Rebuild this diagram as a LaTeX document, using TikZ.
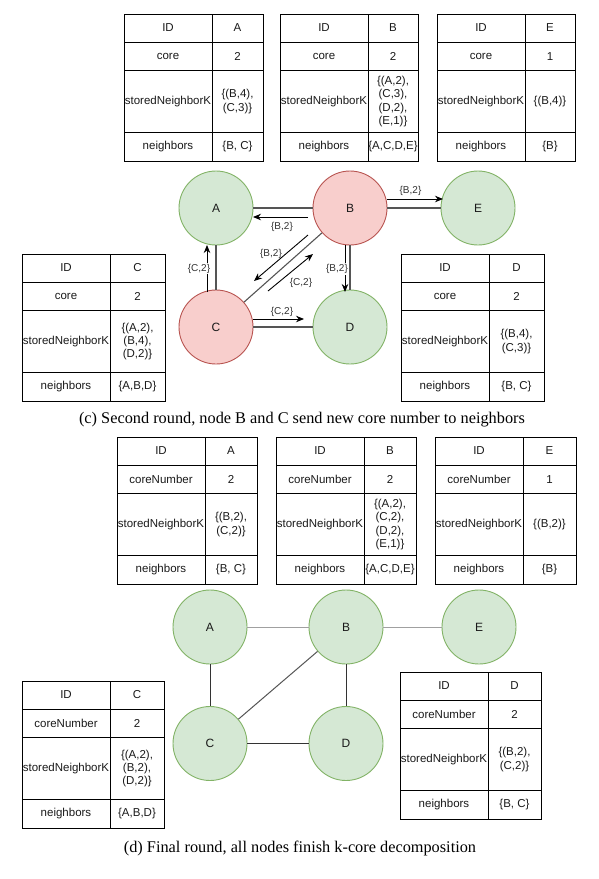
\documentclass[tikz,border=0pt]{standalone}
\usepackage{fontspec}
\setmainfont{Liberation Serif}
\setsansfont{Liberation Sans}
\usetikzlibrary{arrows.meta}
\definecolor{gfill}{HTML}{D5E8D4}
\definecolor{gline}{HTML}{82B366}
\definecolor{rfill}{HTML}{F8CECC}
\definecolor{rline}{HTML}{B85450}
\definecolor{edgegray}{HTML}{555555}
\definecolor{lightedge}{HTML}{A0A0A0}
\definecolor{darkedge}{HTML}{333333}
\definecolor{txtcol}{HTML}{1A1A1A}

\newcommand\kctab[9]{%
 \begin{scope}[shift={(#2,#3)}]
  \draw[tabline] (0,0) rectangle (88+#4,147);
  \draw[tabline] (0,28) -- (88+#4,28);
  \draw[tabline] (0,56.5) -- (88+#4,56.5);
  \draw[tabline] (0,118.5) -- (88+#4,118.5);
  \draw[tabline] (88,0) -- (88,147);
  \node[tabtxt] (#1-k1) at (44,14) {ID};
  \node[tabtxt] (#1-v1) at (88+#4/2,14) {#5};
  \node[tabtxt] (#1-k2) at (44,42.25) {#6};
  \node[tabtxt] (#1-v2) at (88+#4/2,42.25) {#7};
  \node[tabtxt] (#1-k3) at (44,87.5) {storedNeighborK};
  \node[tabtxt] (#1-v3) at (88+#4/2,87.5) {#8};
  \node[tabtxt] (#1-k4) at (44,132.75) {neighbors};
  \node[tabtxt] (#1-v4) at (88+#4/2,132.75) {#9};
 \end{scope}}

\tikzset{
  tabline/.style={draw=black, line width=0.9pt},
  tabtxt/.style={font=\sffamily\fontsize{11.5}{13.3}\selectfont, inner sep=0pt, align=center, text=txtcol},
  gnode/.style={circle, draw=gline, fill=gfill, minimum size=74pt, inner sep=0pt, line width=0.9pt, font=\sffamily\fontsize{12}{14}\selectfont, text=txtcol},
  rnode/.style={gnode, draw=rline, fill=rfill},
  edgeline/.style={draw=edgegray, line width=1.1pt},
  lightline/.style={draw=lightedge, line width=1pt},
  darkline/.style={draw=darkedge, line width=1pt},
  midline/.style={draw=edgegray, line width=1pt},
  msg/.style={-{Stealth[length=8pt,width=6.5pt]}, draw=black, line width=0.9pt},
  lbl/.style={font=\sffamily\fontsize{10}{12}\selectfont, inner sep=1pt, text=darkedge},
  lblw/.style={lbl, fill=white},
  captxt/.style={font=\rmfamily\fontsize{16.3}{19}\selectfont, inner sep=0pt, text=black}
}

\begin{document}
\begin{tikzpicture}[x=1pt, y=-1pt]
\fill[white] (0,0) rectangle (598,879);
\useasboundingbox (0,0) rectangle (598,879);

% ---------- (c) ----------
\kctab{tA}{124}{14}{51}{A}{core}{2}{\{(B,4),\\(C,3)\}}{\{B, C\}}
\kctab{tB}{280}{14}{50}{B}{core}{2}{\{(A,2),\\(C,3),\\(D,2),\\(E,1)\}}{\{A,C,D,E\}}
\kctab{tE}{437}{14}{50}{E}{core}{1}{\{(B,4)\}}{\{B\}}
\kctab{tC}{22}{254}{55}{C}{core}{2}{\{(A,2),\\(B,4),\\(D,2)\}}{\{A,B,D\}}
\kctab{tD}{401}{254}{55}{D}{core}{2}{\{(B,4),\\(C,3)\}}{\{B, C\}}

\node[gnode] (A) at (216,208) {A};
\node[rnode] (B) at (350,208) {B};
\node[gnode] (E) at (478,208) {E};
\node[rnode] (C) at (216,327) {C};
\node[gnode] (D) at (350,327) {D};

\draw[edgeline] (A) -- (B);
\draw[edgeline] (B) -- (E);
\draw[edgeline] (A) -- (C);
\draw[edgeline] (B) -- (D);
\draw[edgeline] (C) -- (D);
\draw[edgeline] (B) -- (C);

\coordinate (ba1) at (308,217); \coordinate (ba2) at (253,217);
\coordinate (be1) at (387,199); \coordinate (be2) at (443,199);
\coordinate (ca1) at (207,292); \coordinate (ca2) at (207,245);
\coordinate (bd1) at (345,245); \coordinate (bd2) at (345,292);
\coordinate (cd1) at (253,319); \coordinate (cd2) at (304,319);
\coordinate (bc1) at (308,235); \coordinate (bc2) at (254,281);
\coordinate (cb1) at (268,291); \coordinate (cb2) at (313,254);

\draw[msg] (ba1) -- (ba2);
\draw[msg] (be1) -- (be2);
\draw[msg] (ca1) -- (ca2);
\draw[msg] (bd1) -- (bd2);
\draw[msg] (cd1) -- (cd2);
\draw[msg] (bc1) -- (bc2);
\draw[msg] (cb1) -- (cb2);

\node[lbl] (lba) at (282,226.5) {\{B,2\}};
\node[lbl] (lbe) at (410.5,191) {\{B,2\}};
\node[lblw] (lca) at (199,268.7) {\{C,2\}};
\node[lblw] (lbd) at (337,269) {\{B,2\}};
\node[lbl] (lcd) at (282,312) {\{C,2\}};
\node[lbl] (lbc) at (271,254.3) {\{B,2\}};
\node[lbl] (lcb) at (301,283) {\{C,2\}};

\node[captxt] (capc) at (302,420) {(c) Second round, node B and C send new core number to neighbors};

% ---------- (d) ----------
\kctab{bA}{117}{437}{52}{A}{coreNumber}{2}{\{(B,2),\\(C,2)\}}{\{B, C\}}
\kctab{bB}{276}{437}{52}{B}{coreNumber}{2}{\{(A,2),\\(C,2),\\(D,2),\\(E,1)\}}{\{A,C,D,E\}}
\kctab{bE}{435}{437}{53}{E}{coreNumber}{1}{\{(B,2)\}}{\{B\}}
\kctab{bC}{22}{681}{54}{C}{coreNumber}{2}{\{(A,2),\\(B,2),\\(D,2)\}}{\{A,B,D\}}
\kctab{bD}{400}{672}{53}{D}{coreNumber}{2}{\{(B,2),\\(C,2)\}}{\{B, C\}}

\node[gnode] (A2) at (210,627) {A};
\node[gnode] (B2) at (346,627) {B};
\node[gnode] (E2) at (479,627) {E};
\node[gnode] (C2) at (210,743.5) {C};
\node[gnode] (D2) at (346,743.5) {D};

\draw[lightline] (A2) -- (B2);
\draw[lightline] (B2) -- (E2);
\draw[darkline] (A2) -- (C2);
\draw[darkline] (B2) -- (D2);
\draw[darkline] (C2) -- (D2);
\draw[midline] (B2) -- (C2);

\node[captxt] (capd) at (300,848) {(d) Final round, all nodes finish k-core decomposition};
\end{tikzpicture}
\end{document}
